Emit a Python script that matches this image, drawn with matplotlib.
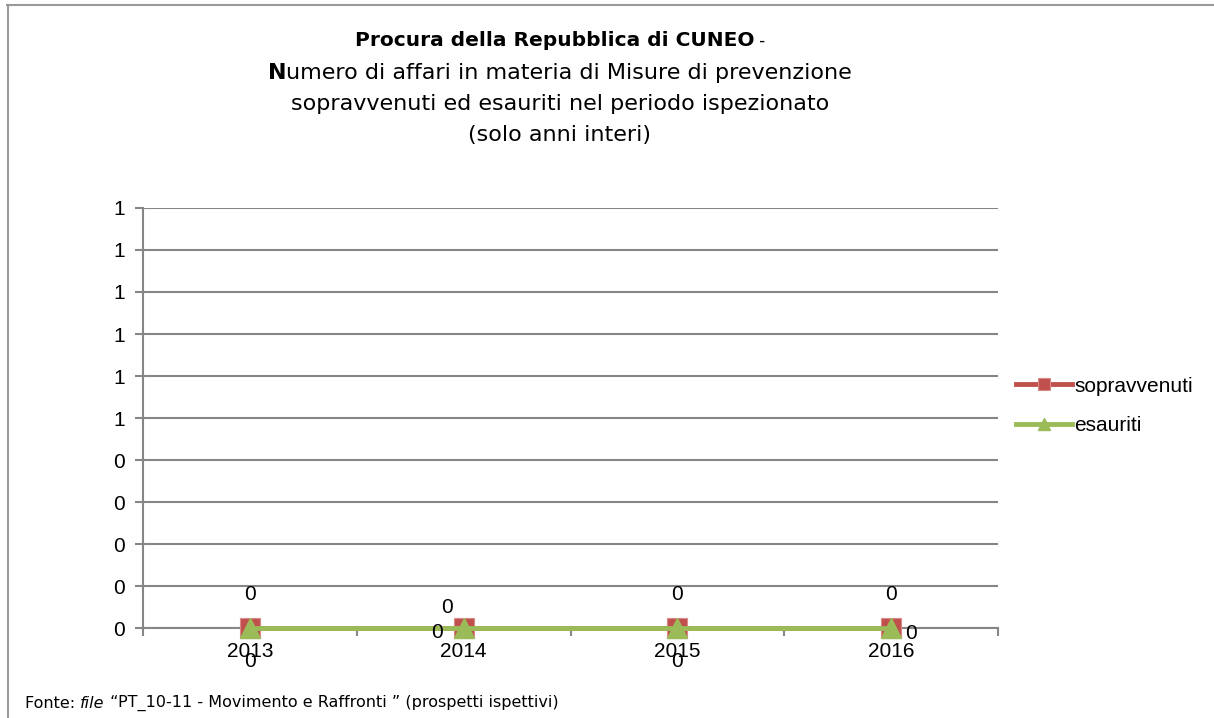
import matplotlib
matplotlib.use("Agg")
import matplotlib.pyplot as plt
from matplotlib.lines import Line2D

# dati
anni = ["2013", "2014", "2015", "2016"]
sopravvenuti = [0, 0, 0, 0]
esauriti = [0, 0, 0, 0]
yticks = [0, 0.1, 0.2, 0.3, 0.4, 0.5, 0.6, 0.7, 0.8, 0.9, 1.0]
yticklabels = ["0", "0", "0", "0", "0", "1", "1", "1", "1", "1", "1"]

ROSSO = "#C0504D"
VERDE = "#9BBB59"
GRIGIO = "#868686"

W, H = 1214, 718
fig = plt.figure(figsize=(W / 100, H / 100), dpi=100)
fig.patch.set_facecolor("white")

# cornice (solo alto e sinistra visibili)
fig.add_artist(Line2D([7 / W, 1213 / W], [1 - 5 / H, 1 - 5 / H], color="#9a9a9a", lw=1.5))
fig.add_artist(Line2D([8 / W, 8 / W], [1 - 5 / H, 0], color="#9a9a9a", lw=1.5))

ax = fig.add_axes([143 / W, 1 - 628 / H, 855 / W, 420 / H])
x = list(range(len(anni)))

ax.plot(x, sopravvenuti, color=ROSSO, lw=3.5, marker="s", markersize=14,
        markeredgecolor="#d88a88", markeredgewidth=0.8, label="sopravvenuti",
        zorder=3, clip_on=False)
ax.plot(x, esauriti, color=VERDE, lw=3.5, marker="^", markersize=14,
        markeredgecolor=VERDE, label="esauriti", zorder=4, clip_on=False)

ax.set_xlim(-0.5, 3.5)
ax.set_ylim(0, 1.0)
ax.set_yticks(yticks)
ax.set_yticklabels(yticklabels)
ax.set_xticks(x)
ax.set_xticklabels(anni)
ax.set_xticks([-0.5, 0.5, 1.5, 2.5, 3.5], minor=True)
ax.tick_params(axis="x", which="major", length=0, pad=10, labelsize=15)
ax.tick_params(axis="x", which="minor", length=6, width=1.5, color=GRIGIO, direction="out")
ax.tick_params(axis="y", length=6, width=1.5, color=GRIGIO, pad=7, labelsize=15)
for lab in ax.get_xticklabels() + ax.get_yticklabels():
    lab.set_fontfamily("Liberation Sans")

ax.grid(axis="y", color=GRIGIO, lw=1.5)
ax.set_axisbelow(True)
for s in ["top", "right"]:
    ax.spines[s].set_visible(False)
ax.spines["left"].set_color(GRIGIO)
ax.spines["left"].set_linewidth(1.5)
ax.spines["bottom"].set_color(GRIGIO)
ax.spines["bottom"].set_linewidth(1.5)

# etichette dati
off_sop = [(0, 24), (-12, 15), (0, 24), (0, 24)]
off_esa = [(0, -24), (-19, -3), (0, -24), (14, -4)]
for i in x:
    ax.annotate(str(sopravvenuti[i]), (i, sopravvenuti[i]), xytext=off_sop[i],
                textcoords="offset points", ha="center", va="center",
                fontsize=15, family="Liberation Sans", annotation_clip=False)
    ax.annotate(str(esauriti[i]), (i, esauriti[i]), xytext=off_esa[i],
                textcoords="offset points", ha="center", va="center",
                fontsize=15, family="Liberation Sans", zorder=5, annotation_clip=False)

leg = ax.legend(loc="center left", bbox_to_anchor=(997 / W, 1 - 406 / H),
                bbox_transform=fig.transFigure, frameon=False, handlelength=2.7,
                handletextpad=0.1, labelspacing=1.0, markerscale=0.6,
                prop={"family": "Liberation Sans", "size": 15})

# titolo composto
fig.canvas.draw()
rend = fig.canvas.get_renderer()
cx = 560 / W
fs = 16


def riga(pezzi, ypix):
    testi = []
    for s, kw in pezzi:
        t = fig.text(0, 1 - ypix / H, s, va="center", ha="left", fontsize=kw.get("size", fs),
                     fontweight=kw.get("weight", "normal"), family="DejaVu Sans")
        testi.append(t)
    larg = [t.get_window_extent(rend).width / W for t in testi]
    x0 = cx - sum(larg) / 2
    for t, w in zip(testi, larg):
        t.set_x(x0)
        x0 += w


riga([("Procura della Repubblica di CUNEO", {"weight": "bold", "size": 14.5}), (" -", {"size": 12})], 41)
riga([("N", {"weight": "bold"}), ("umero di affari in materia di Misure di prevenzione", {})], 73)
riga([("sopravvenuti ed esauriti nel periodo ispezionato", {})], 104)
riga([("(solo anni interi)", {})], 135)

# fonte
yf = 1 - 703 / H
t1 = fig.text(25 / W, yf, "Fonte: ", fontsize=11.5, va="center", family="DejaVu Sans")
fig.canvas.draw()
xx = 25 / W + t1.get_window_extent(rend).width / W
t2 = fig.text(xx, yf, "file", fontsize=11.5, style="italic", va="center", family="DejaVu Sans")
xx += t2.get_window_extent(rend).width / W
fig.text(xx, yf, " \u201cPT_10-11 - Movimento e Raffronti \u201d (prospetti ispettivi)",
         fontsize=11.5, va="center", family="DejaVu Sans")

fig.savefig("out.png", dpi=100, facecolor="white")
